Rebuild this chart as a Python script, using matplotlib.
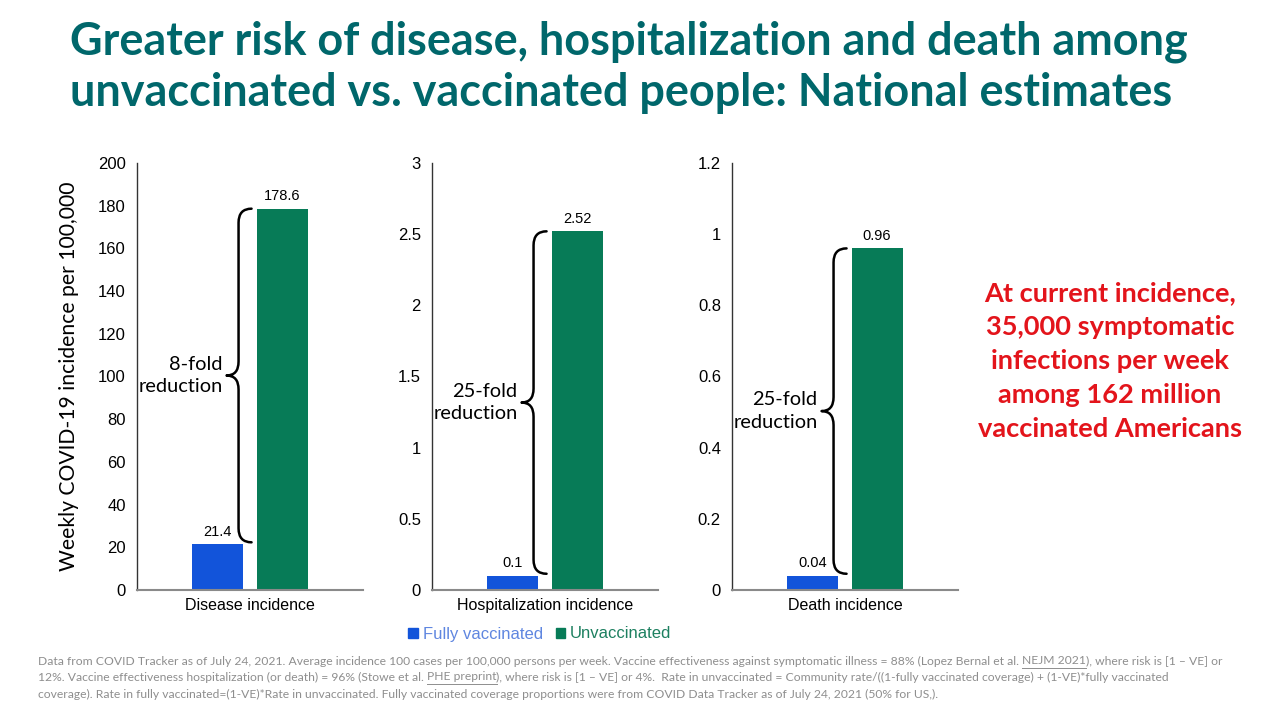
import numpy as np
import matplotlib
matplotlib.use("Agg")
import matplotlib.pyplot as plt
from matplotlib.patches import Patch, PathPatch
from matplotlib.path import Path

# data
panels = ["Disease incidence", "Hospitalization incidence", "Death incidence"]
vaccinated = [21.4, 0.1, 0.04]
unvaccinated = [178.6, 2.52, 0.96]
vacc_labels = ["21.4", "0.1", "0.04"]
unvacc_labels = ["178.6", "2.52", "0.96"]
fold_labels = ["8-fold\nreduction", "25-fold\nreduction", "25-fold\nreduction"]
y_max = [200, 3, 1.2]
y_ticks = [
    [0, 20, 40, 60, 80, 100, 120, 140, 160, 180, 200],
    [0, 0.5, 1, 1.5, 2, 2.5, 3],
    [0, 0.2, 0.4, 0.6, 0.8, 1, 1.2],
]
y_ticklabels = [
    ["0", "20", "40", "60", "80", "100", "120", "140", "160", "180", "200"],
    ["0", "0.5", "1", "1.5", "2", "2.5", "3"],
    ["0", "0.2", "0.4", "0.6", "0.8", "1", "1.2"],
]
series_names = ["Fully vaccinated", "Unvaccinated"]

BLUE = "#1254DA"
GREEN = "#077B57"
TEAL = "#00676B"
RED = "#E3141B"
GRAY = "#8E8E8E"
CAL = ["Lato", "DejaVu Sans"]
ARIAL = ["Liberation Sans", "DejaVu Sans"]

W, H = 1272, 704
fig = plt.figure(figsize=(W / 100, H / 100), dpi=100)
fig.patch.set_facecolor("white")

# title
fig.text(70 / W, 1 - 42 / H, "Greater risk of disease, hospitalization and death among",
         fontsize=32.4, fontweight="bold", color=TEAL, family=CAL, va="center", ha="left")
fig.text(70 / W, 1 - 93 / H, "unvaccinated vs. vaccinated people: National estimates",
         fontsize=32.4, fontweight="bold", color=TEAL, family=CAL, va="center", ha="left")

lefts = [137, 432, 732]
ax_w = 226
ax_top, ax_bot = 163, 590
bw = 0.226
off = 0.142

for i, left in enumerate(lefts):
    ax = fig.add_axes([left / W, 1 - ax_bot / H, ax_w / W, (ax_bot - ax_top) / H])
    ax.bar([-off], [vaccinated[i]], width=bw, color=BLUE)
    ax.bar([off], [unvaccinated[i]], width=bw, color=GREEN)
    ax.set_xlim(-0.5, 0.5)
    ax.set_ylim(0, y_max[i])
    ax.set_yticks(y_ticks[i])
    ax.set_yticklabels(y_ticklabels[i], family=ARIAL, fontsize=12)
    ax.set_xticks([0])
    ax.set_xticklabels([panels[i]], family=ARIAL, fontsize=11.5)
    ax.tick_params(length=0, pad=8)
    ax.tick_params(axis="x", pad=6)
    for s in ["top", "right"]:
        ax.spines[s].set_visible(False)
    ax.spines["left"].set_color("#333333")
    ax.spines["bottom"].set_color("#8A8A8A")
    ax.spines["left"].set_linewidth(1)
    ax.spines["bottom"].set_linewidth(1.5)

    ax.annotate(vacc_labels[i], (-off, vaccinated[i]), xytext=(0, 4), textcoords="offset points",
                ha="center", va="bottom", fontsize=10.5, family=ARIAL)
    ax.annotate(unvacc_labels[i], (off, unvaccinated[i]), xytext=(0, 4), textcoords="offset points",
                ha="center", va="bottom", fontsize=10.5, family=ARIAL)

    # curly brace between bar tops
    g_left = off - bw / 2
    xe = g_left - 5 / ax_w
    xv = g_left - 18 / ax_w
    xt = g_left - 30 / ax_w
    ytop = unvaccinated[i]
    ybot = vaccinated[i] + y_max[i] * 2 / 427
    ymid = (ytop + ybot) / 2
    r = y_max[i] * 14 / 427
    verts = [
        (xe, ytop), (xv, ytop), (xv, ytop - r),
        (xv, ymid + r),
        (xv, ymid), (xt, ymid),
        (xv, ymid), (xv, ymid - r),
        (xv, ybot + r),
        (xv, ybot), (xe, ybot),
    ]
    codes = [Path.MOVETO, Path.CURVE3, Path.CURVE3, Path.LINETO,
             Path.CURVE3, Path.CURVE3, Path.CURVE3, Path.CURVE3,
             Path.LINETO, Path.CURVE3, Path.CURVE3]
    ax.add_patch(PathPatch(Path(verts, codes), fill=False, lw=1.8, color="black",
                           capstyle="round", joinstyle="round"))
    ax.text(xt - 4 / ax_w, ymid, fold_labels[i], ha="right", va="center",
            fontsize=14.4, family=CAL, linespacing=1.42)

    if i == 0:
        ax.set_ylabel("Weekly COVID-19 incidence per 100,000", fontsize=15.2, family=CAL, labelpad=14)

# legend
handles = [Patch(color=BLUE), Patch(color=GREEN)]
leg = fig.legend(handles, series_names, loc="center", bbox_to_anchor=(540 / W, 1 - 634 / H),
                 ncol=2, frameon=False, handlelength=0.55, handleheight=0.55,
                 handletextpad=0.3, columnspacing=0.8, prop={"family": ARIAL, "size": 12})
leg.get_texts()[0].set_color("#5F86E0")
leg.get_texts()[1].set_color("#1D8060")

# callout text
fig.text(1110 / W, 1 - 361 / H,
         "At current incidence,\n35,000 symptomatic\ninfections per week\namong 162 million\nvaccinated Americans",
         ha="center", va="center", fontsize=19.6, fontweight="bold", color=RED, family=CAL,
         linespacing=1.5)

# footnote with underlined references
foot_lines = [
    ["Data from COVID Tracker as of July 24, 2021. Average incidence 100 cases per 100,000 persons per week. "
     "Vaccine effectiveness against symptomatic illness = 88% (Lopez Bernal et al. ", ("NEJM 2021",),
     "), where risk is [1 \u2013 VE] or"],
    ["12%. Vaccine effectiveness hospitalization (or death) = 96% (Stowe et al. ", ("PHE preprint",),
     "), where risk is [1 \u2013 VE] or 4%.  Rate in unvaccinated = Community rate/((1-fully vaccinated coverage) "
     "+ (1-VE)*fully vaccinated"],
    ["coverage). Rate in fully vaccinated=(1-VE)*Rate in unvaccinated. Fully vaccinated coverage proportions "
     "were from COVID Data Tracker as of July 24, 2021 (50% for US,)."],
]
foot_y = [661, 677, 694]
fig.canvas.draw()
renderer = fig.canvas.get_renderer()
for parts, y in zip(foot_lines, foot_y):
    x = 38
    for p in parts:
        under = isinstance(p, tuple)
        s = p[0] if under else p
        t = fig.text(x / W, 1 - y / H, s, ha="left", va="center", fontsize=8.7,
                     color=GRAY, family=CAL)
        bb = t.get_window_extent(renderer)
        if under:
            yy = 1 - (y + 7) / H
            fig.add_artist(plt.Line2D([x / W, (x + bb.width) / W], [yy, yy],
                                      color=GRAY, lw=0.7, transform=fig.transFigure))
        x += bb.width

fig.savefig("out.png", dpi=100)
